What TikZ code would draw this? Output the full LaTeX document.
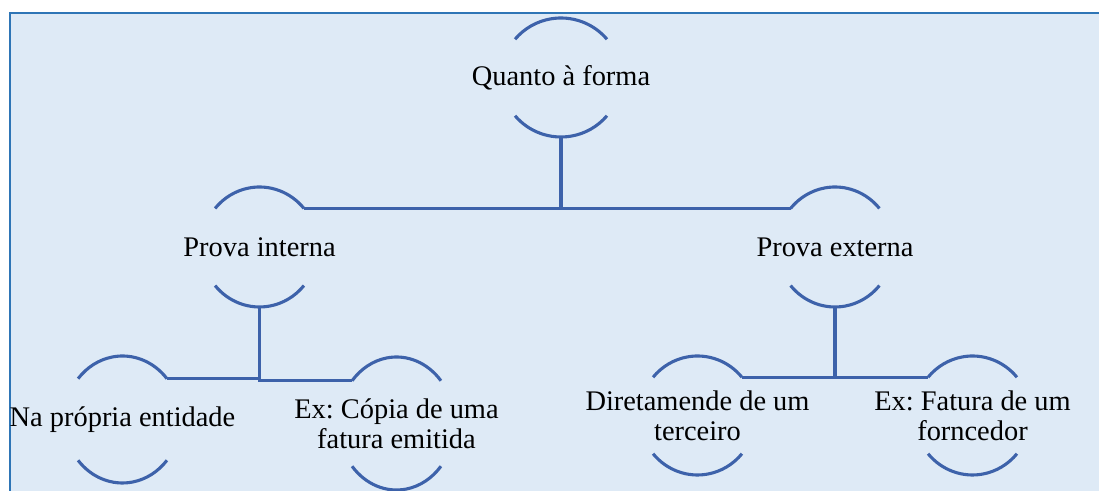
\documentclass[tikz,border=0pt]{standalone}
\usepackage{fontspec}
\setmainfont{Liberation Serif}
\frenchspacing
\definecolor{panel}{HTML}{DEEAF6}
\definecolor{frame}{HTML}{2E75B6}
\definecolor{linkblue}{HTML}{3D62AA}
\tikzset{
    itemtext/.style={align=center, inner sep=0pt, font=\fontsize{20.2}{21.5}\selectfont},
    link/.style={linkblue, line width=2.2pt},
}
\begin{document}
\begin{tikzpicture}[x=0.025cm, y=0.025cm]
    \useasboundingbox (0,0) rectangle (1099,491);
    \fill[panel] (10,0) rectangle (1099,478);
    \draw[frame, line width=1.6pt] (10,0) -- (10,478) -- (1099,478);

    % texts
    \node[itemtext] (top) at (561,413.5) {Quanto à forma};
    \node[itemtext] (pi) at (259.5,244) {Prova interna};
    \node[itemtext] (pe) at (835,244) {Prova externa};
    \node[itemtext] (np) at (122.5,71.5) {Na própria entidade};
    \node[itemtext] (ec) at (396.5,67.5) {Ex: Cópia de uma\\fatura emitida};
    \node[itemtext] (dt) at (697.5,75.5) {Diretamende de um\\terceiro};
    \node[itemtext] (ef) at (972.5,75.5) {Ex: Fatura de um\\forncedor};

    % arcs above and below each text
    \foreach \n/\a/\b in {top/60/59.5, pi/58/60, pe/58/60, np/58/63.5, ec/58/66.5, dt/58/59.5, ef/58/59.5} {
        \draw[link] (\n.center) ++({\a*cos(40)},{\b*sin(40)}) arc[start angle=40, end angle=140, x radius=\a, y radius=\b];
        \draw[link] (\n.center) ++({\a*cos(220)},{\b*sin(220)}) arc[start angle=220, end angle=320, x radius=\a, y radius=\b];
        \path (\n.center) ++({\a*cos(140)},{\b*sin(140)}) coordinate (\n-tl);
        \path (\n.center) ++({\a*cos(40)},{\b*sin(40)}) coordinate (\n-tr);
        \path (\n.center) ++(0,-\b) coordinate (\n-b);
    }

    % connectors
    \draw[link] (top-b) -- (top-b |- pi-tr);
    \draw[link] (pi-tr) -- (pe-tl);
    \draw[link] (pi-b) -- (pi-b |- ec-tl) -- (ec-tl);
    \draw[link] (np-tr) -- (np-tr -| pi-b);
    \draw[link] (pe-b) -- (pe-b |- dt-tr);
    \draw[link] (dt-tr) -- (ef-tl);
\end{tikzpicture}
\end{document}
